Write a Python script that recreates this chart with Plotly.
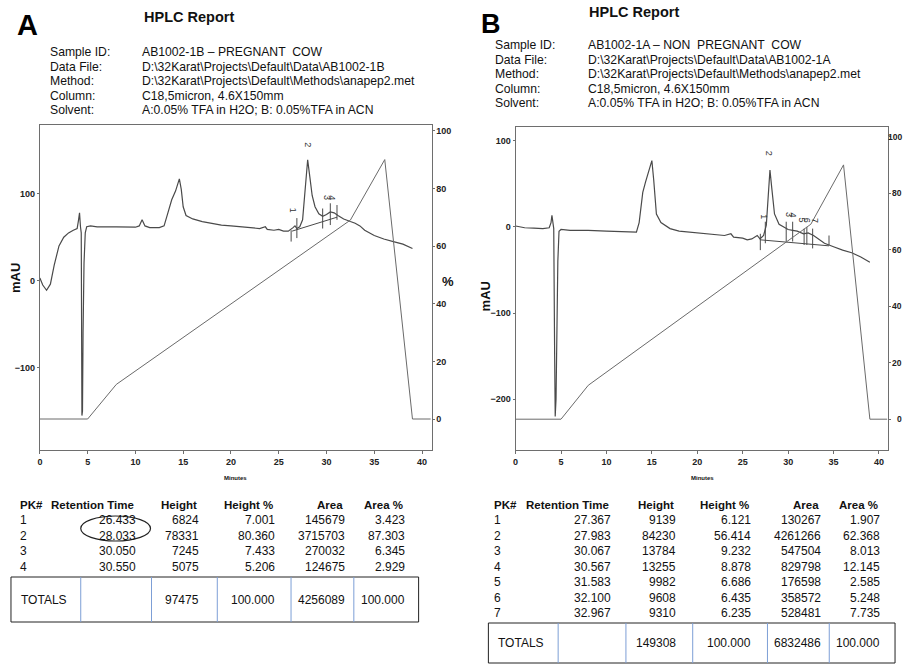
import plotly.graph_objects as go

W, H = 905, 664

# ---------------- data ----------------
# Gradient program (% B) shared by both runs
grad_time = [0, 5, 8, 32.5, 36.1, 39.0, 40.9]
grad_pct = [0, 0, 12, 69, 90, 0, 0]
pct_ticks = [0, 20, 40, 60, 80, 100]

# Chromatogram A (pregnant cow)
time_A = [0, 0.3, 0.7, 1.1, 1.5, 2.0, 2.5, 3.0, 3.5, 3.9, 4.05, 4.15, 4.25, 4.33, 4.40,
          4.46, 4.52, 4.62, 4.75, 4.9, 5.3, 6, 8, 10, 10.4, 10.7, 11.0, 11.5, 12.5, 13.0,
          13.4, 13.8, 14.2, 14.6, 14.8, 15.0, 15.3, 16, 17, 18, 19, 20, 21, 22, 23,
          23.6, 23.8, 24.5, 25, 25.5, 26, 26.5, 26.7, 26.9, 27.2, 27.5, 27.75, 28.03, 28.25, 28.5,
          28.8, 29.2, 29.6, 30.0, 30.4, 30.8, 31.2, 31.8, 32.5, 33.0, 33.5, 34, 35, 36, 37, 38, 39]
mau_A = [3, -5, -11, -4, 18, 40, 50, 55, 58, 60, 70, 78, 62, 55, -155,
         -150, -60, 20, 55, 62, 63, 62, 62, 61.5, 63, 70, 63, 61, 61, 63,
         78, 93, 103, 117, 105, 85, 75, 71, 68, 66, 64, 63, 62, 61, 60,
         62, 59, 58, 59, 57, 57, 61, 63, 60, 62, 70, 100, 139, 120, 98,
         85, 77, 74, 76, 79, 78, 75, 71, 68, 66, 63, 58, 52, 48, 45, 42, 37]
base_time_A = [26.4, 31.1]
base_mau_A = [57, 73]
mark_time_A = [26.3, 26.9, 29.6, 30.4, 31.1]
mark_lo_A = [45, 49, 60, 64, 70]
mark_hi_A = [58, 72, 83, 89, 87]
label_mau_A = [81, 156, 95, 95]

# Chromatogram B (non pregnant cow)
time_B = [0, 1, 2, 3, 3.7, 3.9, 4.0, 4.1, 4.2, 4.3, 4.36, 4.45, 4.55, 4.65, 4.78,
          5.0, 6, 8, 10, 12, 13.3, 13.6, 14.0, 14.3, 14.7, 15.0, 15.2, 15.5, 16.0, 16.5,
          17, 18, 19, 20, 21, 22, 23, 23.7, 24, 25, 25.5, 26, 26.6, 26.9, 27.3,
          27.6, 27.8, 28.0, 28.2, 28.5, 29.0, 29.5, 30.0, 30.5, 31.0, 31.7, 32.2, 32.8, 33.3, 34,
          35, 36, 37, 38, 39]
mau_B = [1, -1, -1.5, -2, -1, 5, 13.5, 5, -2, -150, -220, -200, -120, -40, -5,
         -3, -4, -4, -5, -5.5, -6, 5, 40, 52, 65, 77, 55, 15, 5, 1,
         -2, -5, -6, -7, -8, -9, -10, -8, -12, -13, -15, -14, -10, -14, -10,
         2, 30, 66, 45, 15, 3, 0, -3, -4, -5, -8, -7, -10, -14, -19,
         -23, -27, -30, -35, -41]
base_time_B = [26.9, 34.5]
base_mau_B = [-15, -22]
mark_time_B = [26.94, 27.49, 29.79, 30.5, 31.76, 32.06, 32.7, 34.5]
mark_lo_B = [-27, -19, -17, -17, -21, -21, -25, -21]
mark_hi_B = [-8, 6, 6, 6, -2, 0, -2, -10]
label_mau_B = [12, 85, 14, 14, 8, 8, 8]

# Peak tables
pk_A = [1, 2, 3, 4]
rt_A = [26.433, 28.033, 30.050, 30.550]
height_A = [6824, 78331, 7245, 5075]
height_pct_A = [7.001, 80.360, 7.433, 5.206]
area_A = [145679, 3715703, 270032, 124675]
area_pct_A = [3.423, 87.303, 6.345, 2.929]
totals_A = [97475, 100.000, 4256089, 100.000]

pk_B = [1, 2, 3, 4, 5, 6, 7]
rt_B = [27.367, 27.983, 30.067, 30.567, 31.583, 32.100, 32.967]
height_B = [9139, 84230, 13784, 13255, 9982, 9608, 9310]
height_pct_B = [6.121, 56.414, 9.232, 8.878, 6.686, 6.435, 6.235]
area_B = [130267, 4261266, 547504, 829798, 176598, 358572, 528481]
area_pct_B = [1.907, 62.368, 8.013, 12.145, 2.585, 5.248, 7.735]
totals_B = [149308, 100.000, 6832486, 100.000]

header_labels = ["Sample ID:", "Data File:", "Method:", "Column:", "Solvent:"]
header_A = ["AB1002-1B \u2013 PREGNANT  COW",
            "D:\\32Karat\\Projects\\Default\\Data\\AB1002-1B",
            "D:\\32Karat\\Projects\\Default\\Methods\\anapep2.met",
            "C18,5micron, 4.6X150mm",
            "A:0.05% TFA in H2O; B: 0.05%TFA in ACN"]
header_B = ["AB1002-1A \u2013 NON  PREGNANT  COW",
            "D:\\32Karat\\Projects\\Default\\Data\\AB1002-1A",
            "D:\\32Karat\\Projects\\Default\\Methods\\anapep2.met",
            "C18,5micron, 4.6X150mm",
            "A:0.05% TFA in H2O; B: 0.05%TFA in ACN"]
col_titles = ["Retention Time", "Height", "Height %", "Area", "Area %"]

# ---------------- helpers ----------------
def px(x):
    return x / W

def py(y):
    return 1 - y / H

FONT = "Liberation Sans, Arial, sans-serif"
NARROW = "Liberation Sans Narrow, Arial Narrow, Liberation Sans"
TICKFONT = dict(family=NARROW, size=9, color="#222", weight="bold")
LINE = "#4a4a4a"
GRAD = "#6a6a6a"
FRAME = "#6e6e6e"

fig = go.Figure()
annotations = []
shapes = []

def marks(times, lo, hi):
    xs, ys = [], []
    for t, a, b in zip(times, lo, hi):
        xs += [t, t, None]
        ys += [a, b, None]
    return xs, ys

# ---- panel A traces ----
fig.add_trace(go.Scatter(x=grad_time, y=grad_pct, xaxis="x", yaxis="y2", mode="lines",
                         line=dict(color=GRAD, width=1), hoverinfo="skip"))
fig.add_trace(go.Scatter(x=time_A, y=mau_A, xaxis="x", yaxis="y", mode="lines",
                         line=dict(color=LINE, width=1.2), hoverinfo="skip"))
fig.add_trace(go.Scatter(x=base_time_A, y=base_mau_A, xaxis="x", yaxis="y", mode="lines",
                         line=dict(color=LINE, width=1), hoverinfo="skip"))
mx, my = marks(mark_time_A, mark_lo_A, mark_hi_A)
fig.add_trace(go.Scatter(x=mx, y=my, xaxis="x", yaxis="y", mode="lines",
                         line=dict(color=LINE, width=1), hoverinfo="skip"))

# ---- panel B traces ----
fig.add_trace(go.Scatter(x=grad_time, y=grad_pct, xaxis="x2", yaxis="y4", mode="lines",
                         line=dict(color=GRAD, width=1), hoverinfo="skip"))
fig.add_trace(go.Scatter(x=time_B, y=mau_B, xaxis="x2", yaxis="y3", mode="lines",
                         line=dict(color=LINE, width=1.2), hoverinfo="skip"))
fig.add_trace(go.Scatter(x=base_time_B, y=base_mau_B, xaxis="x2", yaxis="y3", mode="lines",
                         line=dict(color=LINE, width=1), hoverinfo="skip"))
mx, my = marks(mark_time_B, mark_lo_B, mark_hi_B)
fig.add_trace(go.Scatter(x=mx, y=my, xaxis="x2", yaxis="y3", mode="lines",
                         line=dict(color=LINE, width=1), hoverinfo="skip"))

# peak number labels (rotated)
for n, t, m in zip(pk_A, rt_A, label_mau_A):
    annotations.append(dict(x=t, y=m, xref="x", yref="y", text=str(n), showarrow=False,
                            textangle=90, font=dict(family=FONT, size=9, color="#333")))
for n, t, m in zip(pk_B, rt_B, label_mau_B):
    annotations.append(dict(x=t, y=m, xref="x2", yref="y3", text=str(n), showarrow=False,
                            textangle=90, font=dict(family=FONT, size=9, color="#333")))

# right-hand % tick labels of panel B (placed tight against the page edge)
for v in pct_ticks:
    annotations.append(dict(x=px(903), y=v, xref="paper", yref="y4", text=str(v),
                            showarrow=False, xanchor="right", yanchor="middle",
                            borderpad=0, font=dict(family=NARROW, size=8.5, color="#222",
                                                   weight="bold")))

# ---------------- axes ----------------
def xax(domain, rng, anchor):
    return dict(domain=domain, range=rng, anchor=anchor, tickvals=list(range(0, 41, 5)),
                showline=True, mirror=True, linecolor=FRAME, linewidth=1, ticks="outside",
                ticklen=3, tickcolor=FRAME, showgrid=False, zeroline=False, tickfont=TICKFONT)

def yax(domain, rng, anchor, tickvals, **kw):
    d = dict(domain=domain, range=rng, anchor=anchor, tickvals=tickvals,
             showline=True, mirror=True, linecolor=FRAME, linewidth=1, ticks="outside",
             ticklen=2, tickcolor=FRAME, showgrid=False, zeroline=False, tickfont=TICKFONT)
    d.update(kw)
    return d

layout = dict(
    width=W, height=H, margin=dict(l=0, r=0, t=0, b=0),
    paper_bgcolor="white", plot_bgcolor="white", showlegend=False,
    xaxis=xax([px(37), px(430)], [0, 41.0], "y"),
    yaxis=yax([py(450), py(125)], [-194.6, 179], "x", [-100, 0, 100]),
    yaxis2=yax([py(450), py(125)], [-10.75, 102], "x", pct_ticks,
               overlaying="y", side="right"),
    xaxis2=xax([px(514.3), px(888)], [0, 41.0], "y3"),
    yaxis3=yax([py(450), py(127.3)], [-259, 115.6], "x2", [-200, -100, 0, 100]),
    yaxis4=yax([py(450), py(127.3)], [-10.9, 103.3], "x2", pct_ticks,
               overlaying="y3", side="right", showticklabels=False),
)

# ---------------- text ----------------
def txt(x, y, s, size=12, bold=False, anchor="left", angle=0, color="#111"):
    annotations.append(dict(x=px(x), y=py(y), xref="paper", yref="paper", text=s,
                            showarrow=False, xanchor=anchor, yanchor="middle",
                            textangle=angle,
                            font=dict(family=FONT, size=size, color=color,
                                      weight="bold" if bold else "normal")))

# panel letters and titles
txt(12, 25, "A", size=29, bold=True, color="#000")
txt(478, 24, "B", size=27, bold=True, color="#000")
txt(139, 17, "HPLC Report", size=14.5, bold=True)
txt(586, 12, "HPLC Report", size=14.5, bold=True)

for i, (lab, va) in enumerate(zip(header_labels, header_A)):
    y = 52 + 14.5 * i
    txt(45, y, lab, size=12.2)
    txt(137, y, va, size=12.2)
for i, (lab, va) in enumerate(zip(header_labels, header_B)):
    y = 45 + 14.5 * i
    txt(492, y, lab, size=12.2)
    txt(585, y, va, size=12.2)

# axis titles
txt(12, 278, "mAU", size=13, bold=True, anchor="center", angle=-90)
txt(484, 296, "mAU", size=13, bold=True, anchor="center", angle=-90)
txt(446, 282, "%", size=13, bold=True, anchor="center")
txt(233, 478, "Minutes", size=6, bold=True, anchor="center")
txt(702, 478, "Minutes", size=6, bold=True, anchor="center")

# tables
def table(pk_x, right_edges, pks, cols, y0):
    txt(pk_x - 2, 505, "PK#", bold=True, size=11.5)
    for r, title in zip(right_edges, col_titles):
        txt(r, 505, title, bold=True, anchor="right", size=11.5)
    for i, pk in enumerate(pks):
        y = y0 + 15.5 * i
        txt(pk_x - 2, y, str(pk))
        for r, c in zip(right_edges, cols):
            txt(r + 2, y, c[i], anchor="right")

edges_A = [133, 197, 273, 343, 403]
table(17, edges_A, pk_A,
      [[f"{v:.3f}" for v in rt_A], [str(v) for v in height_A],
       [f"{v:.3f}" for v in height_pct_A], [str(v) for v in area_A],
       [f"{v:.3f}" for v in area_pct_A]], 520)
edges_B = [610, 675, 750, 821, 880]
table(493, edges_B, pk_B,
      [[f"{v:.3f}" for v in rt_B], [str(v) for v in height_B],
       [f"{v:.3f}" for v in height_pct_B], [str(v) for v in area_B],
       [f"{v:.3f}" for v in area_pct_B]], 520)

def totals_box(x0, x1, y0, y1, seps, text_x, edges, vals):
    shapes.append(dict(type="rect", xref="paper", yref="paper", x0=px(x0), x1=px(x1),
                       y0=py(y1), y1=py(y0), line=dict(color="#222", width=1)))
    for s in seps:
        shapes.append(dict(type="line", xref="paper", yref="paper", x0=px(s), x1=px(s),
                           y0=py(y1), y1=py(y0), line=dict(color="#7d9fd6", width=1)))
    ym = (y0 + y1) / 2
    txt(text_x - 2, ym, "TOTALS")
    fmt = [str(vals[0]), f"{vals[1]:.3f}", str(vals[2]), f"{vals[3]:.3f}"]
    for r, v in zip(edges[1:], fmt):
        txt(r + 2, ym, v, anchor="right")

totals_box(8, 417, 577, 622, [78, 149, 215, 289, 352], 18, edges_A, totals_A)
totals_box(487, 895, 623, 663, [557, 625, 692, 767, 829], 497, edges_B, totals_B)

# ellipse highlighting the two retention times
shapes.append(dict(type="circle", xref="paper", yref="paper", x0=px(78), x1=px(148),
                   y0=py(541), y1=py(516), line=dict(color="#222", width=1.2)))

layout["annotations"] = annotations
layout["shapes"] = shapes
fig.update_layout(**layout)
fig.write_html("out.html",
               config={"displayModeBar": False},
               post_script="document.body.style.margin='0';document.body.style.overflow='hidden';")
